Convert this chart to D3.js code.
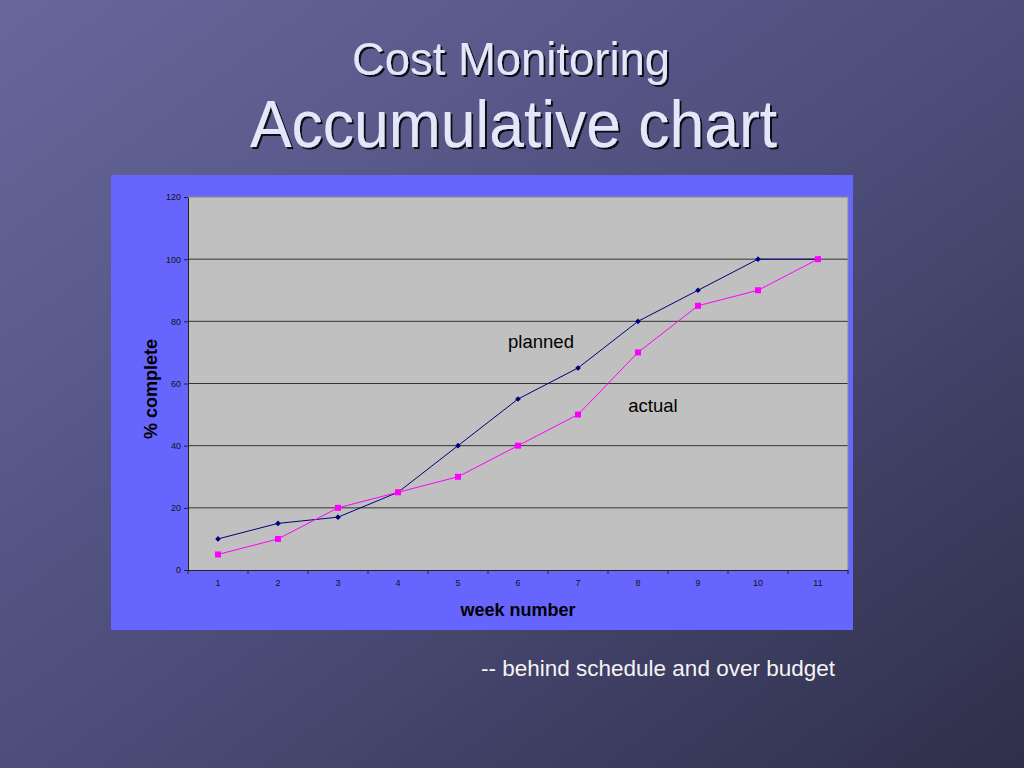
<!DOCTYPE html>
<html><head><meta charset="utf-8">
<script src="https://cdn.jsdelivr.net/npm/d3@7"></script>
<style>html,body{margin:0;padding:0;background:#4a4a70;}svg{display:block;}</style>
</head><body>
<script>
const weeks = [1,2,3,4,5,6,7,8,9,10,11];
const planned = [10,15,17,25,40,55,65,80,90,100,100];
const actual = [5,10,20,25,30,40,50,70,85,90,100];
const yTicks = [0,20,40,60,80,100,120];
const titleLine1 = "Cost Monitoring";
const titleLine2 = "Accumulative chart";
const note = "-- behind schedule and over budget";

const W = 1024, H = 768;
const svg = d3.select("body").append("svg").attr("width", W).attr("height", H);
const defs = svg.append("defs");
const g = defs.append("linearGradient").attr("id","bg").attr("x1","0").attr("y1","0").attr("x2","1").attr("y2","1");
g.append("stop").attr("offset","0%").attr("stop-color","#67679c");
g.append("stop").attr("offset","50%").attr("stop-color","#4e4e7c");
g.append("stop").attr("offset","100%").attr("stop-color","#2f2f4a");
const f = defs.append("filter").attr("id","sh").attr("x","-5%").attr("y","-20%").attr("width","110%").attr("height","140%");
f.append("feDropShadow").attr("dx",2).attr("dy",2).attr("stdDeviation",0.6).attr("flood-color","#000").attr("flood-opacity",0.85);

svg.append("rect").attr("width",W).attr("height",H).attr("fill","url(#bg)");

svg.append("text").attr("x",352).attr("y",75)
  .attr("textLength",318).attr("lengthAdjust","spacingAndGlyphs")
  .attr("font-family","'Liberation Sans',Arial,sans-serif").attr("font-size",46)
  .attr("fill","#e6e6fa").attr("filter","url(#sh)").text(titleLine1);
svg.append("text").attr("x",250).attr("y",147)
  .attr("textLength",527).attr("lengthAdjust","spacingAndGlyphs")
  .attr("font-family","'Liberation Sans',Arial,sans-serif").attr("font-size",66)
  .attr("fill","#e6e6fa").attr("filter","url(#sh)").text(titleLine2);

// panel
svg.append("rect").attr("x",111).attr("y",175).attr("width",742).attr("height",455).attr("fill","#6666ff");

const L = 188, R = 848, T = 197, B = 570;
const x = d3.scaleBand().domain(weeks).range([L,R]);
const y = d3.scaleLinear().domain([0,120]).range([B,T]);
const cx = d => x(d) + x.bandwidth()/2;

svg.append("rect").attr("x",L).attr("y",T).attr("width",R-L).attr("height",B-T).attr("fill","#c0c0c0");

const grid = svg.append("g");
grid.selectAll("line").data(yTicks.filter(t=>t>0 && t<120)).join("line")
  .attr("x1",L).attr("x2",R).attr("y1",d=>y(d)).attr("y2",d=>y(d))
  .attr("stroke","#333").attr("stroke-width",1);

const yAx = svg.append("g").attr("transform",`translate(${L},0)`)
  .call(d3.axisLeft(y).tickValues(yTicks).tickSize(4).tickSizeOuter(0));
const xAx = svg.append("g").attr("transform",`translate(0,${B})`)
  .call(d3.axisBottom(x).tickSize(0).tickPadding(10).tickSizeOuter(0));
xAx.selectAll(".bnd").data(weeks.concat([12])).join("line").attr("class","bnd")
  .attr("x1",(d,i)=> i<weeks.length ? x(d) : R).attr("x2",(d,i)=> i<weeks.length ? x(d) : R)
  .attr("y1",0).attr("y2",4).attr("stroke","#222");
[yAx,xAx].forEach(a=>{
  a.selectAll("path").attr("stroke","#222");
  a.selectAll(".tick line").attr("stroke","#222");
  a.selectAll("text").attr("font-family","Arial,'Liberation Sans',sans-serif").attr("font-size",9).attr("fill","#111");
});
svg.append("line").attr("x1",R).attr("x2",R).attr("y1",T).attr("y2",B).attr("stroke","#888");
svg.append("line").attr("x1",L).attr("x2",R).attr("y1",T).attr("y2",T).attr("stroke","#888");

const line = d3.line().x((d,i)=>cx(weeks[i])).y(d=>y(d));
svg.append("path").datum(planned).attr("d",line).attr("fill","none").attr("stroke","#000080").attr("stroke-width",1);
svg.append("path").datum(actual).attr("d",line).attr("fill","none").attr("stroke","#ff00ff").attr("stroke-width",1);

svg.append("g").selectAll("path").data(planned).join("path")
  .attr("transform",(d,i)=>`translate(${cx(weeks[i])},${y(d)})`)
  .attr("d",d3.symbol().type(d3.symbolSquare).size(16)).attr("transform",(d,i)=>`translate(${cx(weeks[i])},${y(d)}) rotate(45)`)
  .attr("fill","#000080");
svg.append("g").selectAll("rect").data(actual).join("rect")
  .attr("x",(d,i)=>cx(weeks[i])-3).attr("y",d=>y(d)-3).attr("width",6).attr("height",6).attr("fill","#ff00ff");

svg.append("text").attr("x",541).attr("y",348).attr("text-anchor","middle")
  .attr("font-family","Arial,'Liberation Sans',sans-serif").attr("font-size",18.5).attr("fill","#000").text("planned");
svg.append("text").attr("x",653).attr("y",412).attr("text-anchor","middle")
  .attr("font-family","Arial,'Liberation Sans',sans-serif").attr("font-size",18.5).attr("fill","#000").text("actual");

svg.append("text").attr("x",518).attr("y",616).attr("text-anchor","middle")
  .attr("font-family","Arial,'Liberation Sans',sans-serif").attr("font-weight","bold").attr("font-size",18).attr("fill","#000").text("week number");
svg.append("text").attr("transform","translate(157,389) rotate(-90)").attr("text-anchor","middle")
  .attr("font-family","Arial,'Liberation Sans',sans-serif").attr("font-weight","bold").attr("font-size",18).attr("fill","#000").text("% complete");

svg.append("text").attr("x",658).attr("y",676).attr("text-anchor","middle")
  .attr("font-family","Arial,'Liberation Sans',sans-serif").attr("font-size",22.5).attr("fill","#f4f4f4").text(note);
</script>
</body></html>
